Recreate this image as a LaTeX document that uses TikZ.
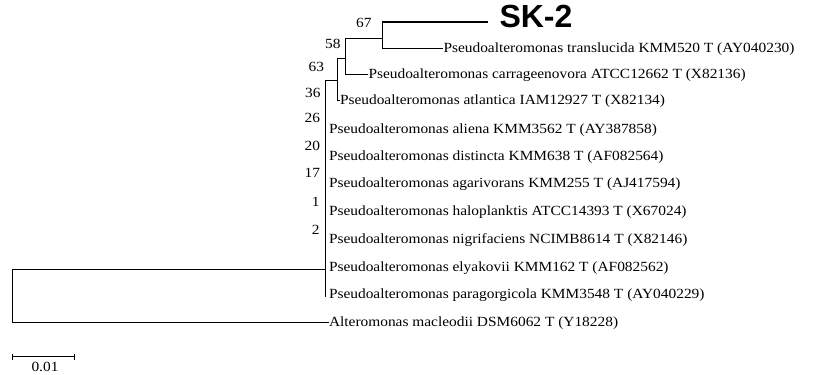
\documentclass[tikz,border=0pt]{standalone}
\usepackage{fontspec}
\setmainfont{Liberation Serif}
\newfontfamily\leaffont[FakeStretch=1.1]{Liberation Serif}
\newfontfamily\labelsans{Liberation Sans}
\begin{document}
\begin{tikzpicture}[x=1pt,y=-1pt,line width=1pt,
  leaf/.style={anchor=mid west,inner sep=0pt,font=\leaffont\fontsize{14}{16}\selectfont},
  boot/.style={anchor=east,inner sep=0pt,font=\leaffont\fontsize{14}{16}\selectfont},
  tip/.style={anchor=west,inner sep=0pt,font=\labelsans\bfseries\fontsize{32}{34}\selectfont},
  branch/.style={line width=1pt},
  thick branch/.style={line width=1.7pt}]
\useasboundingbox (0,0) rectangle (815,375);

% leaves
\node[tip]  (sk2)  at (499,16.5) {SK-2};
\node[leaf] (tra)  at (443,50)  {Pseudoalteromonas translucida KMM520 T (AY040230)};
\node[leaf] (car)  at (368,76)  {Pseudoalteromonas carrageenovora ATCC12662 T (X82136)};
\node[leaf] (atl)  at (339.5,102) {Pseudoalteromonas atlantica IAM12927 T (X82134)};
\node[leaf] (ali)  at (328.5,131) {Pseudoalteromonas aliena KMM3562 T (AY387858)};
\node[leaf] (dis)  at (328.5,158) {Pseudoalteromonas distincta KMM638 T (AF082564)};
\node[leaf] (aga)  at (328.5,185) {Pseudoalteromonas agarivorans KMM255 T (AJ417594)};
\node[leaf] (hal)  at (328.5,213) {Pseudoalteromonas haloplanktis ATCC14393 T (X67024)};
\node[leaf] (nig)  at (328.5,241) {Pseudoalteromonas nigrifaciens NCIMB8614 T (X82146)};
\node[leaf] (ely)  at (328.5,269) {Pseudoalteromonas elyakovii KMM162 T (AF082562)};
\node[leaf] (par)  at (328.5,296) {Pseudoalteromonas paragorgicola KMM3548 T (AY040229)};
\node[leaf] (mac)  at (328.5,324) {Alteromonas macleodii DSM6062 T (Y18228)};

% internal nodes
\coordinate (sk2end) at (488,22);
\coordinate (n67) at (382,38);
\coordinate (n58) at (345,58);
\coordinate (n63) at (337,80);
\coordinate (mtop) at (325,80);
\coordinate (mbot) at (325,296.5);
\coordinate (m) at (325,269);
\coordinate (root) at (12,296);

% branches
\draw[thick branch] (n67 |- sk2end) -- (sk2end);
\draw[branch] (n67) -- (n67 |- sk2end);
\draw[branch] (n67) |- (tra.west);
\draw[branch] (n58) |- (n67);
\draw[branch] (n58) |- (car.west);
\draw[branch] (n63) |- (n58);
\draw[branch] (n63) |- (atl.west);
\draw[branch] (mtop) -- (n63);
\draw[branch] (mtop) -- (mbot);
\draw[branch] (root) |- (m);
\draw[branch] (root) |- (mac.west);

% bootstrap values
\node[boot] (b67) at (372,23)  {67};
\node[boot] (b58) at (341,44)  {58};
\node[boot] (b63) at (324.5,66.5) {63};
\node[boot] (b36) at (321,92.5) {36};
\node[boot] (b26) at (320.5,118) {26};
\node[boot] (b20) at (320.5,146) {20};
\node[boot] (b17) at (320.5,173) {17};
\node[boot] (b1)  at (320,202) {1};
\node[boot] (b2)  at (320,230) {2};

% scale bar
\coordinate (sbl) at (12,356.5);
\coordinate (sbr) at (74,356.5);
\draw[branch] (sbl) -- (sbr);
\draw[branch] ([yshift=-3pt]sbl) -- ([yshift=3pt]sbl);
\draw[branch] ([yshift=-3pt]sbr) -- ([yshift=3pt]sbr);
\node[boot,anchor=center] (sbt) at (45,367) {0.01};
\end{tikzpicture}
\end{document}
